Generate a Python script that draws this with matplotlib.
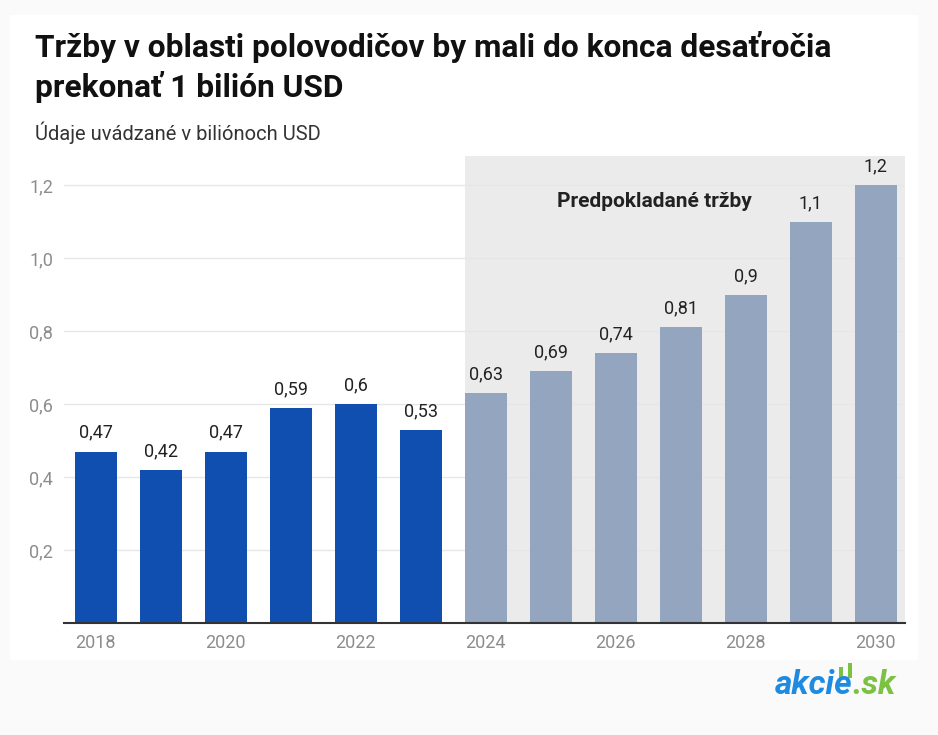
import matplotlib.pyplot as plt
from matplotlib.patches import Rectangle

# Semiconductor revenue, trillion USD (actual 2018-2023, forecast 2024-2030)
years = [2018, 2019, 2020, 2021, 2022, 2023, 2024, 2025, 2026, 2027, 2028, 2029, 2030]
values = [0.47, 0.42, 0.47, 0.59, 0.60, 0.53, 0.63, 0.69, 0.74, 0.81, 0.90, 1.10, 1.20]
labels = ["0,47", "0,42", "0,47", "0,59", "0,6", "0,53", "0,63", "0,69", "0,74",
          "0,81", "0,9", "1,1", "1,2"]
first_forecast = 2024
yticks = [0.2, 0.4, 0.6, 0.8, 1.0, 1.2]
ytick_labels = ["0,2", "0,4", "0,6", "0,8", "1,0", "1,2"]

ACTUAL = "#104fb0"
FORECAST = "#93a5bf"
SHADE = "#ebebeb"
GREY = "#8c8c8c"

plt.rcParams["font.family"] = ["Roboto", "DejaVu Sans"]

fig = plt.figure(figsize=(9.38, 7.35), dpi=100)
fig.patch.set_facecolor("#fafafa")
# white card behind the chart
fig.patches.append(Rectangle((10 / 938, 1 - 660 / 735), 908 / 938, 645 / 735,
                             transform=fig.transFigure, facecolor="white",
                             edgecolor="none", zorder=-1))

ax = fig.add_axes([64 / 938, 1 - 623 / 735, 841 / 938, 467 / 735])
ax.set_zorder(2)
ax.set_facecolor("none")
x = list(range(len(years)))
fi = years.index(first_forecast)
colors = [ACTUAL if y < first_forecast else FORECAST for y in years]
ax.bar(x, values, width=0.65, color=colors, zorder=3)
ax.set_xlim(-0.49, len(years) - 0.55)
ax.set_ylim(0, 1.28)
ax.axvspan(fi - 0.325, len(years), color=SHADE, zorder=1, lw=0)

for xi, v, lab in zip(x, values, labels):
    ax.annotate(lab, (xi, v), textcoords="offset points", xytext=(0, 7),
                ha="center", va="bottom", fontsize=13, color="#222222",
                annotation_clip=False, zorder=4)

ax.text(8.6, 1.155, "Predpokladané tržby",
        ha="center", va="center", fontsize=15, fontweight="bold", color="#222222",
        zorder=4)

ax.set_yticks(yticks)
ax.set_yticklabels(ytick_labels)
ax.set_xticks(x[::2])
ax.set_xticklabels([str(y) for y in years[::2]])
ax.tick_params(axis="both", length=0, colors=GREY, labelsize=13)
ax.tick_params(axis="x", pad=8)
ax.tick_params(axis="y", pad=8)
ax.grid(True, axis="y", color="#e6e6e6", lw=1, zorder=2)
for s in ["top", "right", "left"]:
    ax.spines[s].set_visible(False)
ax.spines["bottom"].set_color("#333333")
ax.spines["bottom"].set_linewidth(1.5)
ax.spines["bottom"].set_zorder(5)

fig.text(35 / 938, 1 - 31 / 735,
         "Tržby v oblasti polovodičov by mali do konca desaťročia\nprekonať 1 bilión USD",
         ha="left", va="top", fontsize=22.8, fontweight="bold", color="#111111",
         linespacing=1.3)
fig.text(35 / 938, 1 - 133 / 735, "Údaje uvádzané v biliónoch USD",
         ha="left", va="center", fontsize=14.5, color="#333333")

# logo
logo = fig.text(775 / 938, 1 - 685 / 735, "akcie", ha="left", va="center",
                fontsize=24, fontweight="bold", style="italic", color="#1e8be0")
fig.patches.append(Rectangle((839 / 938, 1 - 678 / 735), 3.5 / 938, 11 / 735,
                             transform=fig.transFigure, facecolor="#7cc242",
                             edgecolor="none", zorder=3))
fig.patches.append(Rectangle((848 / 938, 1 - 678 / 735), 3.5 / 938, 15 / 735,
                             transform=fig.transFigure, facecolor="#7cc242",
                             edgecolor="none", zorder=3))
fig.add_artist(plt.Annotation(".sk", xy=(1, 0.5), xycoords=logo, xytext=(0, 0),
                              textcoords="offset points", ha="left", va="center",
                              fontsize=24, fontweight="bold", style="italic",
                              color="#7cc242"))

fig.savefig("out.png", dpi=100, facecolor=fig.get_facecolor())
